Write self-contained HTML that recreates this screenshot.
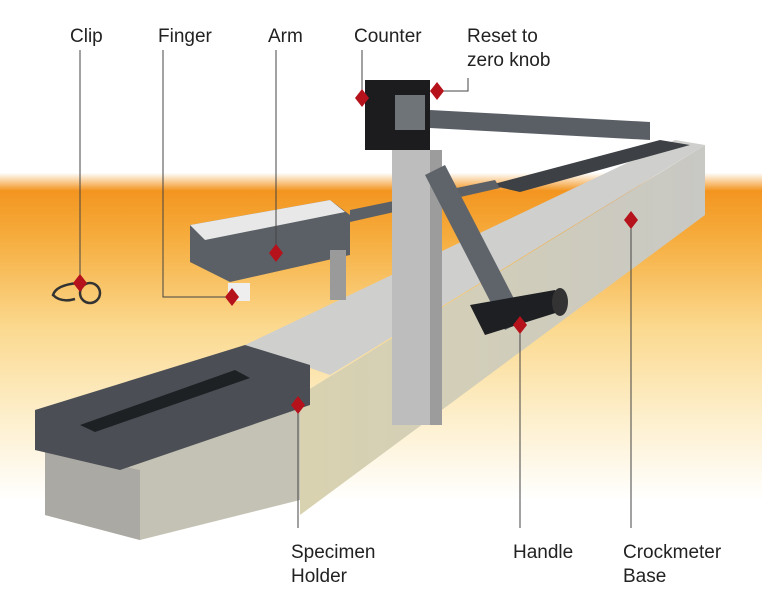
<!DOCTYPE html>
<html><head><meta charset="utf-8"><style>
html,body{margin:0;padding:0;background:#fff}
svg{display:block}
text{font-family:"Liberation Sans",sans-serif;font-size:19px;fill:#222}
</style></head><body>
<svg width="762" height="596" viewBox="0 0 762 596" xmlns="http://www.w3.org/2000/svg">
<defs>
<linearGradient id="bg" x1="0" y1="0" x2="0" y2="1">
<stop offset="0" stop-color="#fff"/>
<stop offset="0.29" stop-color="#fff"/>
<stop offset="0.32" stop-color="#f39520"/>
<stop offset="0.40" stop-color="#f6ad3e"/>
<stop offset="0.55" stop-color="#fbd98f"/>
<stop offset="0.70" stop-color="#fdefcc"/>
<stop offset="0.84" stop-color="#fff"/>
</linearGradient>
<linearGradient id="side" x1="0" y1="0" x2="1" y2="0">
<stop offset="0" stop-color="#d9d2b0"/><stop offset="1" stop-color="#c8c8c4"/>
</linearGradient>
</defs>
<rect width="762" height="596" fill="url(#bg)"/>
<!-- base -->
<polygon points="245,345 675,140 705,145 330,375" fill="#cfcfcd"/>
<polygon points="300,395 705,145 705,215 300,515" fill="url(#side)"/>
<!-- specimen holder lower -->
<polygon points="45,450 300,390 300,500 140,540 45,515" fill="#c4c2b4"/>
<polygon points="45,450 140,470 140,540 45,515" fill="#aaa9a3"/>
<!-- specimen holder top -->
<polygon points="35,410 245,345 310,365 310,405 120,470 35,450" fill="#4b4f55"/>
<polygon points="80,425 235,370 250,378 95,432" fill="#1e2124"/>
<!-- slab -->
<polygon points="490,185 660,140 690,145 520,192" fill="#3d4045"/>
<!-- upper arm -->
<polygon points="430,110 650,122 650,140 430,128" fill="#5a5f66"/>
<!-- finger arm -->
<polygon points="190,225 330,200 350,215 350,255 230,282 190,262" fill="#5b6067"/>
<polygon points="190,225 330,200 345,212 205,240" fill="#e8e8e8"/>
<polygon points="350,210 495,180 500,188 350,222" fill="#5b6067"/>
<rect x="228" y="283" width="22" height="18" fill="#eee"/>
<rect x="330" y="250" width="16" height="50" fill="#9a9a9a"/>
<!-- column -->
<rect x="392" y="150" width="45" height="275" fill="#bdbdbd"/>
<rect x="430" y="150" width="12" height="275" fill="#9c9c9c"/>
<!-- counter -->
<rect x="365" y="80" width="65" height="70" fill="#1c1c1e"/>
<rect x="395" y="95" width="30" height="35" fill="#6f7479"/>
<!-- crank -->
<polygon points="425,175 445,165 525,320 505,330" fill="#5f646b"/>
<polygon points="470,305 555,290 565,310 485,335" fill="#1d1f22"/>
<ellipse cx="560" cy="302" rx="8" ry="14" fill="#333"/>
<!-- clip -->
<g fill="none" stroke="#333" stroke-width="2.5"><circle cx="90" cy="293" r="10"/><path d="M78 283 q-22 2 -25 12 q8 8 22 4"/></g>
<!-- leader lines -->
<g stroke="#444" stroke-width="1" fill="none">
<path d="M80 50 V283"/>
<path d="M163 50 V297 H232"/>
<path d="M276 50 V253"/>
<path d="M362 50 V98"/>
<path d="M468 78 V91 H437"/>
<path d="M520 325 V528"/>
<path d="M298 405 V528"/>
<path d="M631 220 V528"/>
</g>
<g fill="#b5121b">
<polygon points="80,274 87,283 80,292 73,283"/>
<polygon points="232,288 239,297 232,306 225,297"/>
<polygon points="276,244 283,253 276,262 269,253"/>
<polygon points="362,89 369,98 362,107 355,98"/>
<polygon points="437,82 444,91 437,100 430,91"/>
<polygon points="520,316 527,325 520,334 513,325"/>
<polygon points="298,396 305,405 298,414 291,405"/>
<polygon points="631,211 638,220 631,229 624,220"/>
</g>
<text x="70" y="42">Clip</text>
<text x="158" y="42">Finger</text>
<text x="268" y="42">Arm</text>
<text x="354" y="42">Counter</text>
<text x="467" y="42">Reset to</text>
<text x="467" y="66">zero knob</text>
<text x="291" y="558">Specimen</text>
<text x="291" y="582">Holder</text>
<text x="513" y="558">Handle</text>
<text x="623" y="558">Crockmeter</text>
<text x="623" y="582">Base</text>
</svg>
</body></html>
